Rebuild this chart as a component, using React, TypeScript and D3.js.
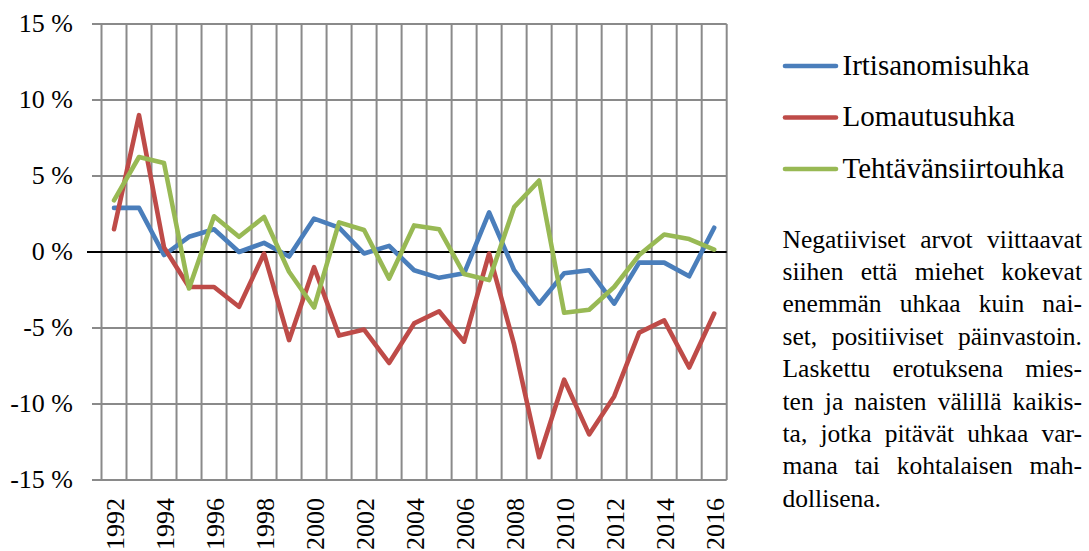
import React, { useMemo } from "react";
import * as d3 from "d3";

const years = [
  1992, 1993, 1994, 1995, 1996, 1997, 1998, 1999, 2000, 2001, 2002, 2003, 2004,
  2005, 2006, 2007, 2008, 2009, 2010, 2011, 2012, 2013, 2014, 2015, 2016,
];

const irtisanomisuhka = [
  2.9, 2.9, -0.2, 1.0, 1.5, 0.0, 0.6, -0.3, 2.2, 1.6, -0.1, 0.4, -1.2, -1.7,
  -1.4, 2.6, -1.2, -3.4, -1.4, -1.2, -3.4, -0.7, -0.7, -1.6, 1.6,
];

const lomautusuhka = [
  1.5, 9.0, 0.3, -2.3, -2.3, -3.6, -0.1, -5.8, -1.0, -5.5, -5.1, -7.3, -4.7,
  -3.9, -5.9, -0.1, -6.1, -13.5, -8.4, -12.0, -9.5, -5.3, -4.5, -7.6, -4.05,
];

const tehtavansiirtouhka = [
  3.4, 6.25, 5.85, -2.4, 2.35, 1.0, 2.3, -1.3, -3.65, 1.95, 1.45, -1.75, 1.75,
  1.5, -1.45, -1.85, 2.95, 4.7, -4.0, -3.8, -2.3, -0.2, 1.15, 0.85, 0.15,
];

const seriesNames = ["Irtisanomisuhka", "Lomautusuhka", "Tehtävänsiirtouhka"];
const seriesColors = ["#4A7EBB", "#BE4B48", "#98B954"];

const yTicks = [15, 10, 5, 0, -5, -10, -15];
const xTickLabels = [1992, 1994, 1996, 1998, 2000, 2002, 2004, 2006, 2008, 2010, 2012, 2014, 2016];

const noteLines = [
  "Negatiiviset arvot viittaavat",
  "siihen että miehet kokevat",
  "enemmän uhkaa kuin nai-",
  "set, positiiviset päinvastoin.",
  "Laskettu erotuksena mies-",
  "ten ja naisten välillä kaikis-",
  "ta, jotka pitävät uhkaa var-",
  "mana tai kohtalaisen mah-",
  "dollisena.",
];

const FONT = "Liberation Serif";

function measurer() {
  const canvas = document.createElement("canvas");
  const ctx = canvas.getContext("2d");
  return (s: string, size: number) => {
    if (!ctx) return s.length * size * 0.45;
    ctx.font = `${size}px 'Liberation Serif'`;
    return ctx.measureText(s).width;
  };
}

export default function App() {
  const width = 1089;
  const height = 551;

  const x = d3
    .scaleBand<number>()
    .domain(years)
    .range([101.5, 726.7])
    .paddingInner(0)
    .paddingOuter(0);
  const y = d3.scaleLinear().domain([-15, 15]).range([480, 24]);
  const bw = x.bandwidth();
  const cx = (yr: number) => (x(yr) as number) + bw / 2;

  const line = d3
    .line<number>()
    .x((_, i) => cx(years[i]))
    .y((v) => y(v));

  const allSeries = [irtisanomisuhka, lomautusuhka, tehtavansiirtouhka];

  const boundaries = d3.range(years.length + 1).map((i) => 101.5 + i * bw);

  const noteSize = 25.5;
  const noteLeft = 782.5;
  const noteWidth = 299.5;
  const noteTop = 247.5;
  const noteGap = 32.4;

  const noteLayout = useMemo(() => {
    const m = measurer();
    return noteLines.map((ln, li) => {
      const words = ln.split(" ");
      const ws = words.map((w) => m(w, noteSize));
      const last = li === noteLines.length - 1;
      const total = ws.reduce((a, b) => a + b, 0);
      const gap =
        last || words.length < 2
          ? m(" ", noteSize)
          : (noteWidth - total) / (words.length - 1);
      let pos = noteLeft;
      return words.map((w, i) => {
        const item = { w, x: pos };
        pos += ws[i] + gap;
        return item;
      });
    });
  }, []);

  const textStyle = { fontFamily: FONT };

  return (
    <svg
      width={width}
      height={height}
      style={{ position: "absolute", left: 0, top: 0, background: "#fff" }}
    >
      <rect x={0} y={0} width={width} height={height} fill="#fff" />
      {/* horizontal gridlines */}
      {yTicks.map((t) => (
        <line
          key={"h" + t}
          x1={92}
          x2={726.7}
          y1={y(t)}
          y2={y(t)}
          stroke="#8a8a8a"
          strokeWidth={2}
        />
      ))}
      {/* vertical gridlines */}
      {boundaries.map((bx, i) => (
        <line
          key={"v" + i}
          x1={bx}
          x2={bx}
          y1={y(15)}
          y2={y(-15)}
          stroke="#8a8a8a"
          strokeWidth={2}
        />
      ))}
      {/* zero line */}
      <line x1={87} x2={726.7} y1={y(0)} y2={y(0)} stroke="#000" strokeWidth={2} />

      {/* y labels */}
      {yTicks.map((t) => (
        <text
          key={"yl" + t}
          x={73}
          y={y(t) + 8}
          textAnchor="end"
          fontSize={26}
          fill="#000"
          style={textStyle}
        >
          {`${t} %`}
        </text>
      ))}

      {/* x labels */}
      {xTickLabels.map((yr) => (
        <text
          key={"xl" + yr}
          transform={`translate(${cx(yr) + 9.5},498) rotate(-90)`}
          textAnchor="end"
          fontSize={26}
          fill="#000"
          style={textStyle}
        >
          {yr}
        </text>
      ))}

      {/* series */}
      {allSeries.map((s, i) => (
        <path
          key={"s" + i}
          d={line(s) || ""}
          fill="none"
          stroke={seriesColors[i]}
          strokeWidth={4.6}
          strokeLinejoin="round"
          strokeLinecap="round"
        />
      ))}

      {/* legend */}
      {seriesNames.map((n, i) => {
        const ly = 66 + i * 51.5;
        return (
          <g key={"lg" + i}>
            <line
              x1={785}
              x2={836}
              y1={ly}
              y2={ly}
              stroke={seriesColors[i]}
              strokeWidth={4.6}
              strokeLinecap="round"
            />
            <text x={842.5} y={ly + 8.5} fontSize={29} fill="#000" style={textStyle}>
              {n}
            </text>
          </g>
        );
      })}

      {/* note */}
      {noteLayout.map((words, li) =>
        words.map((wd, wi) => (
          <text
            key={`n${li}-${wi}`}
            x={wd.x}
            y={noteTop + li * noteGap}
            fontSize={noteSize}
            fill="#000"
            style={textStyle}
          >
            {wd.w}
          </text>
        ))
      )}
    </svg>
  );
}
